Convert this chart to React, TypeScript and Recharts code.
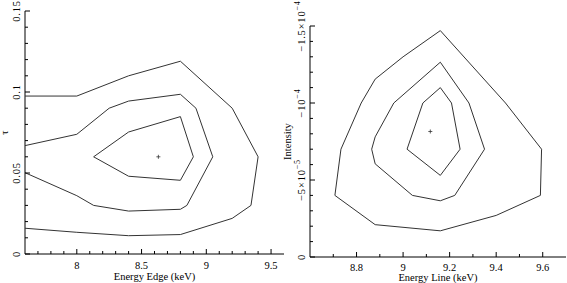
import React from "react";
import { ScatterChart, Scatter, XAxis, YAxis } from "recharts";

// left panel: Energy Edge (keV) vs tau, three confidence contours
const edgeOuter = [
  [7.6, 0.0975], [8.0, 0.0975], [8.4, 0.11], [8.8, 0.119], [9.2, 0.09], [9.4, 0.06],
  [9.345, 0.03], [9.2, 0.022], [8.8, 0.012], [8.4, 0.0113], [8.0, 0.0134], [7.6, 0.0159],
];
const edgeMiddle = [
  [7.6, 0.0669], [8.0, 0.0739], [8.25, 0.09], [8.4, 0.0944], [8.8, 0.0986], [8.92, 0.09],
  [9.05, 0.06], [8.85, 0.03], [8.8, 0.0276], [8.4, 0.0265], [8.13, 0.03], [8.0, 0.036], [7.6, 0.0502],
];
const edgeInner = [
  [8.13, 0.06], [8.4, 0.0753], [8.8, 0.0848], [8.9, 0.06], [8.8, 0.0455], [8.4, 0.048], [8.13, 0.06],
];
const edgeBest = [[8.63, 0.06]];

// right panel: Energy Line (keV) vs Intensity
const lineOuter = [
  [9.16, -1.47e-4], [9.0, -1.3e-4], [8.88, -1.155e-4], [8.82, -1.0e-4], [8.733, -7.0e-5],
  [8.707, -4.0e-5], [8.88, -2.1e-5], [9.16, -1.7e-5], [9.4, -2.7e-5], [9.59, -4.0e-5],
  [9.595, -7.0e-5], [9.44, -1.0e-4], [9.16, -1.47e-4],
];
const lineMiddle = [
  [9.16, -1.265e-4], [8.96, -1.0e-4], [8.88, -7.8e-5], [8.865, -7.0e-5], [8.88, -6.05e-5],
  [9.04, -4.0e-5], [9.16, -3.65e-5], [9.222, -4.0e-5], [9.35, -7.0e-5], [9.283, -1.0e-4],
  [9.16, -1.265e-4],
];
const lineInner = [
  [9.16, -1.1e-4], [9.085, -1.0e-4], [9.017, -7.0e-5], [9.16, -5.3e-5], [9.245, -7.0e-5],
  [9.208, -1.0e-4], [9.16, -1.1e-4],
];
const lineBest = [[9.117, -8.15e-5]];

// ticks
const edgeXMajor = [8, 8.5, 9, 9.5];
const edgeYMajor = [0, 0.05, 0.1, 0.15];
const lineXMajor = [8.8, 9, 9.2, 9.4, 9.6];
const lineYMajor = [0, -5e-5, -1e-4, -1.5e-4];
const lineYLabels = ["0", "−5×10|−5", "−10|−4", "−1.5×10|−4"];

const range = (a: number, b: number, step: number) => {
  const out: number[] = [];
  const n = Math.round((b - a) / step);
  for (let i = 0; i <= n; i++) out.push(+(a + i * step).toPrecision(10));
  return out;
};
const edgeXTicks = range(7.7, 9.5, 0.1);
const edgeYTicks = range(0, 0.15, 0.01);
const lineXTicks = range(8.7, 9.6, 0.1);
const lineYTicks = range(-1.5e-4, 0, 1e-5);

const FONT = "'Liberation Serif', 'Times New Roman', serif";
const INK = "#000";
const CONTOUR = "#333";

const toPts = (arr: number[][]) => arr.map(([x, y]) => ({ x, y }));
const isMajor = (majors: number[], v: number) =>
  majors.some((m) => Math.abs(m - v) < Math.max(1e-9, Math.abs(m) * 1e-6));

// label text with optional superscript after "|"
const TickText = ({ s }: { s: string }) => {
  const [base, sup] = s.split("|");
  return (
    <>
      {base}
      {sup && (
        <tspan dy={-5} fontSize={8}>
          {sup}
        </tspan>
      )}
    </>
  );
};

const makeTick = (side: string, majors: number[], fmt?: (v: number) => string, off = 14) =>
  (props: any) => {
    const { x, y, payload } = props;
    const v = payload.value;
    const major = isMajor(majors, v);
    const len = major ? 5 : 3;
    let line;
    if (side === "bottom") line = <line x1={x} y1={y} x2={x} y2={y - len} stroke={INK} />;
    else if (side === "top") line = <line x1={x} y1={y} x2={x} y2={y + len} stroke={INK} />;
    else if (side === "left") line = <line x1={x} y1={y} x2={x + len} y2={y} stroke={INK} />;
    else line = <line x1={x} y1={y} x2={x - len} y2={y} stroke={INK} />;
    let text = null;
    if (major && fmt) {
      if (side === "bottom") {
        text = (
          <text x={x} y={y + off} textAnchor="middle" fontFamily={FONT} fontSize={10.5} fill={INK}>
            {fmt(v)}
          </text>
        );
      } else if (side === "left") {
        const tx = x - off;
        text = (
          <text x={tx} y={y} transform={`rotate(-90 ${tx} ${y})`} textAnchor="middle"
            fontFamily={FONT} fontSize={10.5} letterSpacing={0.8} fill={INK}>
            <TickText s={fmt(v)} />
          </text>
        );
      }
    }
    return (
      <g>
        {line}
        {text}
      </g>
    );
  };

const bottomTitle = (title: string, dy: number) => (p: any) => {
  const vb = p.viewBox;
  return (
    <text x={vb.x + vb.width / 2} y={vb.y + dy} textAnchor="middle" fontFamily={FONT}
      fontSize={10.5} fill={INK}>
      {title}
    </text>
  );
};
const leftTitle = (title: string, dx: number) => (p: any) => {
  const vb = p.viewBox;
  const tx = vb.x + dx;
  const ty = vb.y + vb.height / 2;
  return (
    <text x={tx} y={ty} transform={`rotate(-90 ${tx} ${ty})`} textAnchor="middle"
      dominantBaseline="central" fontFamily={FONT} fontSize={10.5} fill={INK}>
      {title}
    </text>
  );
};

const noDot = () => <g />;
const plusDot = (p: any) => (
  <path d={`M${p.cx - 2},${p.cy}h4M${p.cx},${p.cy - 2}v4`} stroke={CONTOUR} strokeWidth={0.8} />
);

const fmtEdgeY = (v: number) => (Math.abs(v) < 1e-9 ? "0" : String(+v.toFixed(2)));
const fmtLineY = (v: number) => {
  const i = lineYMajor.findIndex((m) => Math.abs(m - v) < 1e-9);
  return i >= 0 ? lineYLabels[i] ?? "" : "";
};

function EdgePanel() {
  const xd: [number, number] = [7.6, 9.6];
  const yd: [number, number] = [0, 0.15];
  return (
    <ScatterChart width={290} height={283} margin={{ top: 11, right: 6, bottom: 0, left: 0 }}>
      <XAxis type="number" dataKey="x" domain={xd} allowDataOverflow ticks={edgeXTicks}
        interval={0} tickSize={0} tickMargin={0} tickLine={false} axisLine={{ stroke: INK }}
        height={29} tick={makeTick("bottom", edgeXMajor, (v) => String(v), 15)}
        label={bottomTitle("Energy Edge (keV)", 26)} />
      <XAxis xAxisId="top" orientation="top" type="number" domain={xd} allowDataOverflow
        ticks={edgeXTicks} interval={0} tickSize={0} tickMargin={0} tickLine={false}
        axisLine={{ stroke: INK }} height={0} tick={makeTick("top", edgeXMajor)} />
      <YAxis type="number" dataKey="y" domain={yd} allowDataOverflow ticks={edgeYTicks}
        interval={0} tickSize={0} tickMargin={0} tickLine={false} axisLine={{ stroke: INK }}
        width={25} tick={makeTick("left", edgeYMajor, fmtEdgeY, 5)}
        label={leftTitle("τ", 4)} />
      <YAxis yAxisId="right" orientation="right" type="number" domain={yd} allowDataOverflow
        ticks={edgeYTicks} interval={0} tickSize={0} tickMargin={0} tickLine={false}
        axisLine={{ stroke: INK }} width={0} tick={makeTick("right", edgeYMajor)} />
      <Scatter data={toPts(edgeOuter)} line={{ stroke: CONTOUR, strokeWidth: 1 }} shape={noDot}
        isAnimationActive={false} />
      <Scatter data={toPts(edgeMiddle)} line={{ stroke: CONTOUR, strokeWidth: 1 }} shape={noDot}
        isAnimationActive={false} />
      <Scatter data={toPts(edgeInner)} line={{ stroke: CONTOUR, strokeWidth: 1 }} shape={noDot}
        isAnimationActive={false} />
      <Scatter data={toPts(edgeBest)} shape={plusDot} isAnimationActive={false} />
    </ScatterChart>
  );
}

function LinePanel() {
  const xd: [number, number] = [8.6, 9.7];
  const yd: [number, number] = [-1.5e-4, 0];
  return (
    <ScatterChart width={285} height={283} margin={{ top: 26, right: 1, bottom: 0, left: 0 }}>
      <XAxis type="number" dataKey="x" domain={xd} allowDataOverflow ticks={lineXTicks}
        interval={0} tickSize={0} tickMargin={0} tickLine={false} axisLine={{ stroke: INK }}
        height={26} tick={makeTick("bottom", lineXMajor, (v) => String(v), 13.5)}
        label={bottomTitle("Energy Line (keV)", 24)} />
      <XAxis xAxisId="top" orientation="top" type="number" domain={xd} allowDataOverflow
        ticks={lineXTicks} interval={0} tickSize={0} tickMargin={0} tickLine={false}
        axisLine={{ stroke: INK }} height={0} tick={makeTick("top", lineXMajor)} />
      <YAxis type="number" dataKey="y" domain={yd} reversed allowDataOverflow ticks={lineYTicks}
        interval={0} tickSize={0} tickMargin={0} tickLine={false} axisLine={{ stroke: INK }}
        width={28} tick={makeTick("left", lineYMajor, fmtLineY, 5)}
        label={leftTitle("Intensity", 5.5)} />
      <YAxis yAxisId="right" orientation="right" type="number" domain={yd} reversed
        allowDataOverflow ticks={lineYTicks} interval={0} tickSize={0} tickMargin={0}
        tickLine={false} axisLine={{ stroke: INK }} width={0} tick={makeTick("right", lineYMajor)} />
      <Scatter data={toPts(lineOuter)} line={{ stroke: CONTOUR, strokeWidth: 1 }} shape={noDot}
        isAnimationActive={false} />
      <Scatter data={toPts(lineMiddle)} line={{ stroke: CONTOUR, strokeWidth: 1 }} shape={noDot}
        isAnimationActive={false} />
      <Scatter data={toPts(lineInner)} line={{ stroke: CONTOUR, strokeWidth: 1 }} shape={noDot}
        isAnimationActive={false} />
      <Scatter data={toPts(lineBest)} shape={plusDot} isAnimationActive={false} />
    </ScatterChart>
  );
}

export default function App() {
  return (
    <div style={{ position: "absolute", left: 0, top: 0, width: 567, height: 283, background: "#fff", overflow: "hidden" }}>
      <div style={{ position: "absolute", left: 0, top: 0 }}>
        <EdgePanel />
      </div>
      <div style={{ position: "absolute", left: 282, top: 0 }}>
        <LinePanel />
      </div>
    </div>
  );
}
